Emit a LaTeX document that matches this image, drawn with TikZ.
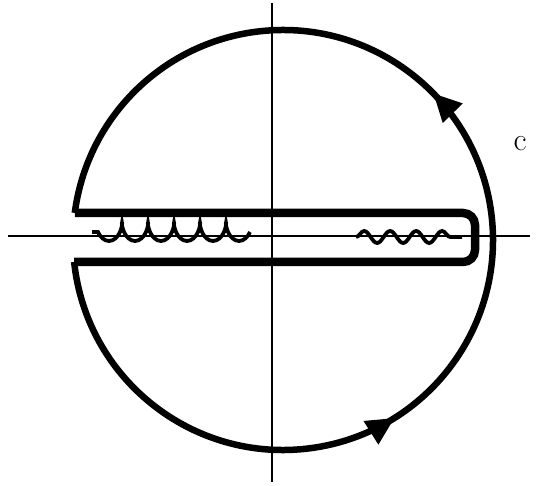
\documentclass[tikz,border=0pt]{standalone}
\usepackage{fontspec}
\usetikzlibrary{decorations.pathmorphing,decorations.markings,arrows.meta,calc}
\begin{document}
\begin{tikzpicture}[x=1pt,y=1pt,
  axis/.style={line width=1.3pt},
  contour/.style={line width=6.5pt,line join=miter},
  slotline/.style={line width=8.5pt,line join=miter},
  cutline/.style={line width=3.8pt},
  arrowmarks/.style={postaction={decorate},decoration={markings,
    mark=at position 0.335 with {\arrow{Triangle[length=28pt,width=26pt]}},
    mark=at position 0.63 with {\arrow{Triangle[length=28pt,width=26pt]}}}}]
\useasboundingbox (0,0) rectangle (540,485);
\coordinate (O) at (283,245);
\coordinate (xl) at (8,249);
\coordinate (xr) at (530,249);
\coordinate (yt) at (272,482);
\coordinate (yb) at (272,3);
\draw[axis] (xl) -- (xr);
\draw[axis] (yt) -- (yb);
\coordinate (bl) at ($(O)+(-174:210)$);
\coordinate (tl) at ($(O)+(172.6:210)$);
\coordinate (tr) at (475,272);
\coordinate (br) at (475,223);
% outer arc, counterclockwise
\draw[contour,arrowmarks] (bl) arc[start angle=-174,end angle=172.6,radius=210];
% slot
\draw[slotline,rounded corners=12pt] (tl) -- (tr) -- (br) -- (bl);
% branch cuts
\coordinate (c1) at (92,253);
\coordinate (c2) at (250,253);
\coordinate (c3) at (356,248);
\coordinate (c4) at (462,248);
\draw[cutline,decorate,decoration={coil,amplitude=9pt,segment length=26pt,aspect=0.5}] (c2) -- (c1);
\draw[cutline,decorate,decoration={snake,amplitude=6pt,segment length=26pt}] (c3) -- (c4);
\node[font=\fontsize{32}{34}\selectfont] (lab) at (520,341) {c};
\end{tikzpicture}
\end{document}
